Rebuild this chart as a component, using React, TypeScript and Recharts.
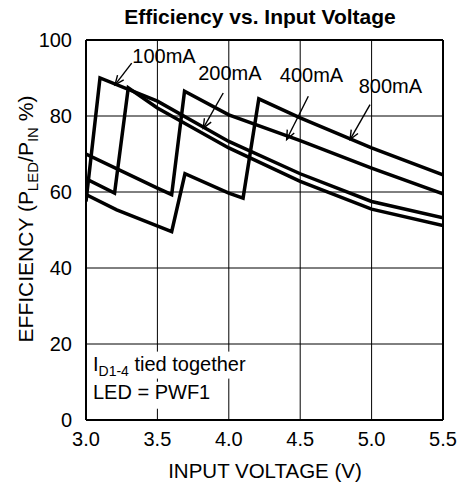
import React from 'react';
import {
  LineChart,
  Line,
  XAxis,
  YAxis,
  CartesianGrid,
  ReferenceLine,
  ReferenceDot,
} from 'recharts';

// input voltage (V) vs efficiency (%)
const volts100 = [3.0, 3.098, 3.5, 4.0, 4.5, 5.0, 5.5];
const eff100 = [57.5, 90, 83.9, 73.3, 64.8, 57.5, 53.2];

const volts200 = [3.0, 3.2, 3.296, 3.5, 4.0, 4.5, 5.0, 5.5];
const eff200 = [63.5, 59.7, 87.4, 82.1, 71.6, 62.8, 55.5, 51.2];

const volts400 = [3.0, 3.5, 3.6, 3.69, 4.0, 4.5, 5.0, 5.5];
const eff400 = [70, 61, 59.3, 86.5, 80.3, 73.5, 66.3, 59.5];

const volts800 = [3.0, 3.215, 3.6, 3.693, 4.0, 4.1, 4.21, 4.5, 5.0, 5.5];
const eff800 = [59.3, 55.3, 49.6, 64.8, 59.7, 58.4, 84.5, 79.5, 71.6, 64.5];

const xTicks = [3.0, 3.5, 4.0, 4.5, 5.0, 5.5];
const yTicks = [0, 20, 40, 60, 80, 100];

// annotation labels and arrows (data coordinates)
const noteLabels = ['100mA', '200mA', '400mA', '800mA'];
const noteTextV = [3.546, 4.008, 4.579, 5.132];
const noteTextE = [94.0, 89.55, 89.0, 86.1];
const arrowFromV = [3.32, 3.961, 4.557, 4.989];
const arrowFromE = [93.9, 86.05, 85.2, 83.0];
const arrowToV = [3.203, 3.821, 4.405, 4.849];
const arrowToE = [88.2, 76.8, 73.8, 73.8];

const toPoints = (vs: number[], es: number[]) => vs.map((v, i) => ({ v, e: es[i] }));

const series = [
  { name: '100mA', data: toPoints(volts100, eff100) },
  { name: '200mA', data: toPoints(volts200, eff200) },
  { name: '400mA', data: toPoints(volts400, eff400) },
  { name: '800mA', data: toPoints(volts800, eff800) },
];

const FONT = 'Liberation Sans, Arial, Helvetica, sans-serif';

const ArrowShape = (props: any) => {
  const { x1, y1, x2, y2 } = props;
  const a = Math.atan2(y2 - y1, x2 - x1);
  const len = 10;
  const spread = 0.4;
  const ax = x2 - len * Math.cos(a - spread);
  const ay = y2 - len * Math.sin(a - spread);
  const bx = x2 - len * Math.cos(a + spread);
  const by = y2 - len * Math.sin(a + spread);
  return (
    <g>
      <line x1={x1} y1={y1} x2={x2} y2={y2} stroke="#000" strokeWidth={1.4} />
      <polyline
        points={`${ax},${ay} ${x2},${y2} ${bx},${by}`}
        fill="none"
        stroke="#000"
        strokeWidth={1.4}
      />
    </g>
  );
};

const App: React.FC = () => {
  return (
    <div
      style={{
        position: 'absolute',
        left: 0,
        top: 0,
        width: 462,
        height: 487,
        background: '#fff',
        fontFamily: FONT,
      }}
    >
      <LineChart
        width={462}
        height={487}
        margin={{ top: 40, right: 19, left: 46, bottom: 37 }}
        style={{ fontFamily: FONT }}
      >
        <CartesianGrid stroke="#000" strokeWidth={1} />
        <XAxis
          type="number"
          dataKey="v"
          domain={[3, 5.5]}
          ticks={xTicks}
          allowDataOverflow
          height={30}
          tickSize={0}
          tickMargin={12}
          tickFormatter={(v: number) => v.toFixed(1)}
          tick={{ fill: '#000', fontSize: 20 }}
          axisLine={{ stroke: '#000', strokeWidth: 2 }}
        />
        <YAxis
          type="number"
          domain={[0, 100]}
          ticks={yTicks}
          width={40}
          tickSize={0}
          tickMargin={14}
          tick={{ fill: '#000', fontSize: 20 }}
          axisLine={{ stroke: '#000', strokeWidth: 2 }}
        />
        <ReferenceLine y={100} stroke="#000" strokeWidth={2} />
        <ReferenceLine x={5.5} stroke="#000" strokeWidth={2} />

        {series.map((s) => (
          <Line
            key={s.name}
            data={s.data}
            dataKey="e"
            type="linear"
            stroke="#000"
            strokeWidth={3.5}
            strokeLinejoin="miter"
            dot={false}
            activeDot={false}
            isAnimationActive={false}
          />
        ))}

        {noteLabels.map((label, i) => (
          <ReferenceLine
            key={`arrow-${label}`}
            segment={[
              { x: arrowFromV[i], y: arrowFromE[i] },
              { x: arrowToV[i], y: arrowToE[i] },
            ]}
            shape={ArrowShape}
          />
        ))}
        {noteLabels.map((label, i) => (
          <ReferenceDot
            key={`text-${label}`}
            x={noteTextV[i]}
            y={noteTextE[i]}
            shape={(p: any) => (
              <text x={p.cx} y={p.cy} textAnchor="middle" fontSize={20} fill="#000">
                {label}
              </text>
            )}
          />
        ))}

        {/* test conditions box, lower left */}
        <ReferenceDot
          x={3.049}
          y={13.0}
          shape={(p: any) => (
            <g>
              <rect x={p.cx - 5} y={p.cy - 19} width={158} height={27} fill="#fff" />
              <text x={p.cx} y={p.cy} fontSize={20} fill="#000">
                I
                <tspan dy={5} fontSize={14}>D1-4</tspan>
                <tspan dy={-5}> tied together</tspan>
              </text>
            </g>
          )}
        />
        <ReferenceDot
          x={3.049}
          y={5.6}
          shape={(p: any) => (
            <g>
              <rect x={p.cx - 5} y={p.cy - 17} width={130} height={27} fill="#fff" />
              <text x={p.cx} y={p.cy} fontSize={20} fill="#000">
                LED = PWF1
              </text>
            </g>
          )}
        />

        <text x={260} y={24} textAnchor="middle" fontSize={21} fontWeight="bold" fill="#000">
          Efficiency vs. Input Voltage
        </text>
        <text x={265} y={478} textAnchor="middle" fontSize={20.5} fill="#000">
          INPUT VOLTAGE (V)
        </text>
        <text
          x={33}
          y={219}
          transform="rotate(-90, 33, 219)"
          textAnchor="middle"
          fontSize={21}
          fill="#000"
        >
          EFFICIENCY (P
          <tspan dy={5} fontSize={15}>LED</tspan>
          <tspan dy={-5}>/P</tspan>
          <tspan dy={5} fontSize={15}>IN</tspan>
          <tspan dy={-5}> %)</tspan>
        </text>
      </LineChart>
    </div>
  );
};

export default App;
